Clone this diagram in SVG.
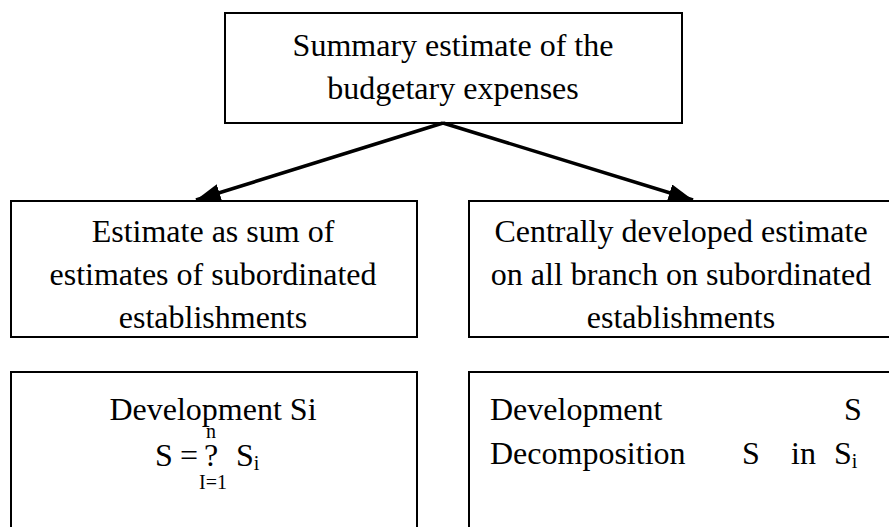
<svg xmlns="http://www.w3.org/2000/svg" width="889" height="527" viewBox="0 0 889 527">
<defs>
<style>
.box{fill:#fff;stroke:#000;stroke-width:2}
text{font-family:'Liberation Serif','Times New Roman',Tinos,serif;fill:#000}
.t{font-size:32px}
.s{font-size:20px}
.c{text-anchor:middle}
.conn{stroke:#000;stroke-width:3.5;fill:none}
</style>
<marker id="ah" markerWidth="7" markerHeight="5" refX="7" refY="2.5" orient="auto" markerUnits="strokeWidth">
<path d="M0,0 L7,2.5 L0,5 Z" fill="#000"/>
</marker>
</defs>
<g id="top">
<rect class="box" x="225" y="13" width="457" height="110"/>
<text class="t c" x="453" y="56">Summary estimate of the</text>
<text class="t c" x="453" y="99">budgetary expenses</text>
</g>
<g id="left-mid">
<rect class="box" x="11" y="201" width="406" height="136"/>
<text class="t c" x="213" y="242">Estimate as sum of</text>
<text class="t c" x="213" y="285">estimates of subordinated</text>
<text class="t c" x="213" y="328">establishments</text>
</g>
<g id="right-mid">
<rect class="box" x="469" y="201" width="430" height="136"/>
<text class="t c" x="681" y="242">Centrally developed estimate</text>
<text class="t c" x="681" y="285">on all branch on subordinated</text>
<text class="t c" x="681" y="328">establishments</text>
</g>
<g id="left-bottom">
<rect class="box" x="11" y="372" width="406" height="170"/>
<text class="t c" x="213" y="420">Development Si</text>
<text class="s c" x="211" y="438">n</text>
<text class="t" x="155" y="466">S</text>
<text class="t" x="180" y="466">=</text>
<text class="t" x="204" y="466">?</text>
<text class="t" x="236" y="466">S<tspan class="s" dy="4">i</tspan></text>
<text class="s c" x="213" y="489">I=1</text>
</g>
<g id="right-bottom">
<rect class="box" x="469" y="372" width="430" height="170"/>
<text class="t" x="490" y="420">Development</text>
<text class="t" x="844" y="420">S</text>
<text class="t" x="490" y="464">Decomposition</text>
<text class="t" x="742" y="464">S</text>
<text class="t" x="791" y="464">in</text>
<text class="t" x="834" y="464">S<tspan class="s" dy="4">i</tspan></text>
</g>
<g id="connectors">
<line class="conn" x1="443" y1="123" x2="196" y2="200" marker-end="url(#ah)"/>
<line class="conn" x1="443" y1="123" x2="693" y2="200" marker-end="url(#ah)"/>
</g>
</svg>
